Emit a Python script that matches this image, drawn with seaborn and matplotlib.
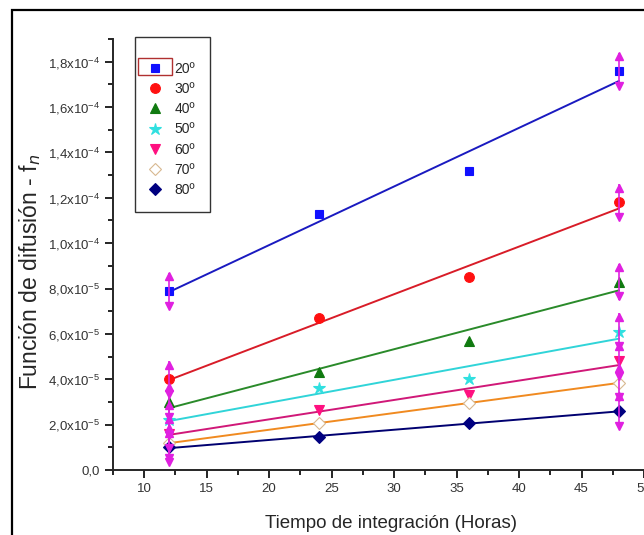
import numpy as np
import pandas as pd
import seaborn as sns
import matplotlib.pyplot as plt
from matplotlib.patches import Rectangle
from matplotlib.ticker import MultipleLocator, FuncFormatter

#hours of integration
horas = [12, 24, 36, 48]

#diffusion function values (x1e-5) per temperature
t20 = [7.9, 11.3, 13.2, 17.6]
t30 = [4.0, 6.7, 8.5, 11.8]
t40 = [3.0, 4.3, 5.7, 8.3]
t50 = [2.2, 3.6, 4.0, 6.1]
t60 = [1.6, 2.65, 3.3, 4.8]
t70 = [1.2, 2.05, 2.95, 3.85]
t80 = [1.0, 1.45, 2.05, 2.6]

labels = ["20º", "30º", "40º", "50º", "60º", "70º", "80º"]
series = [t20, t30, t40, t50, t60, t70, t80]
error = 0.8  #x1e-5, only drawn on first and last point

markers = ["s", "o", "^", "*", "v", "D", "D"]
mark_colors = ["#1010ff", "#ff1010", "#107a10", "#30e0e0", "#ff1080", "#d8b890", "#000080"]
line_colors = ["#1a1ac0", "#d81c28", "#2a8a2a", "#30d4d8", "#d01878", "#f08a20", "#000070"]
mark_sizes = [6, 7, 7, 9, 7, 6, 6]

sns.set_style("ticks")
plt.rcParams["font.family"] = ["Liberation Sans", "DejaVu Sans"]
plt.rcParams["mathtext.fontset"] = "custom"
plt.rcParams["mathtext.rm"] = "Liberation Sans"

fig = plt.figure(figsize=(6.44, 5.35), dpi=100)
ax = fig.add_axes([113 / 644, 65 / 535, 556 / 644, 431 / 535])

#outer frame around the figure
fig.patches.append(Rectangle((12 / 644, -0.1), 1.2, (525 / 535) + 0.1, transform=fig.transFigure,
                             fill=False, edgecolor="black", linewidth=1.6, clip_on=False))

df = pd.DataFrame({"horas": horas * len(series),
                   "valor": np.concatenate(series) * 1e-5,
                   "temp": np.repeat(labels, len(horas))})

for i, lab in enumerate(labels):
    sub = df[df["temp"] == lab]
    sns.regplot(data=sub, x="horas", y="valor", scatter=False, ci=None, ax=ax,
                line_kws={"color": line_colors[i], "linewidth": 1.4})

for i, lab in enumerate(labels):
    sub = df[df["temp"] == lab]
    face = "white" if i == 5 else mark_colors[i]
    ax.plot(sub["horas"], sub["valor"], linestyle="none", marker=markers[i],
            markersize=mark_sizes[i], markerfacecolor=face, markeredgecolor=mark_colors[i],
            markeredgewidth=0.8, label=lab, zorder=4)

#magenta error bars with arrow caps at first and last hour
for i, lab in enumerate(labels):
    sub = df[(df["temp"] == lab) & (df["horas"].isin([horas[0], horas[-1]]))]
    ax.errorbar(sub["horas"], sub["valor"], yerr=error * 1e-5, fmt="none",
                ecolor="#e020e0", elinewidth=1.2, capsize=0, zorder=5)
    ax.plot(sub["horas"], sub["valor"] + error * 1e-5 - 0.15e-5, "^", color="#e020e0",
            markersize=5.5, zorder=5)
    ax.plot(sub["horas"], sub["valor"] - error * 1e-5 + 0.15e-5, "v", color="#e020e0",
            markersize=5.5, zorder=5)

ax.set_xlim(7.5, 52)
ax.set_ylim(0, 1.9e-4)
ax.xaxis.set_major_locator(MultipleLocator(5))
ax.xaxis.set_minor_locator(MultipleLocator(2.5))
ax.yaxis.set_major_locator(MultipleLocator(2e-5))
ax.yaxis.set_minor_locator(MultipleLocator(1e-5))


def fmt_y(v, pos):
    if abs(v) < 1e-12:
        return "0,0"
    exp = int(np.floor(np.log10(abs(v)) + 1e-9))
    mant = v / 10 ** exp
    return ("%.1f" % mant).replace(".", ",") + "x10$^{%d}$" % exp


ax.yaxis.set_major_formatter(FuncFormatter(fmt_y))
ax.tick_params(which="major", direction="out", length=6, width=1.2, labelsize=9.5,
               labelcolor="#333333", color="black")
ax.tick_params(which="minor", direction="out", length=3.5, width=1.2, color="black")

sns.despine(ax=ax, top=True, right=True)
ax.spines["left"].set_linewidth(1.4)
ax.spines["bottom"].set_linewidth(1.4)

ax.set_xlabel("Tiempo de integración (Horas)", fontsize=13.5, labelpad=14)
ax.set_ylabel("Función de difusión - f$_{n}$", fontsize=16.5)
ax.yaxis.set_label_coords(-0.125, 0.46)

leg = ax.legend(loc="upper left", bbox_to_anchor=(22 / 556, 1.005), frameon=True, fancybox=False,
                edgecolor="black", fontsize=10, handlelength=0.8, handletextpad=1.0,
                labelspacing=0.45, borderpad=1.05, borderaxespad=0,
                title=" ", title_fontsize=3)
leg.get_frame().set_linewidth(1.0)

#selection box around the first legend entry
fig.patches.append(Rectangle((138 / 644, 1 - 75 / 535), 34 / 644, 17 / 535, transform=fig.transFigure,
                             fill=False, edgecolor="#b03030", linewidth=1.0))

fig.savefig("out.png", dpi=100)
